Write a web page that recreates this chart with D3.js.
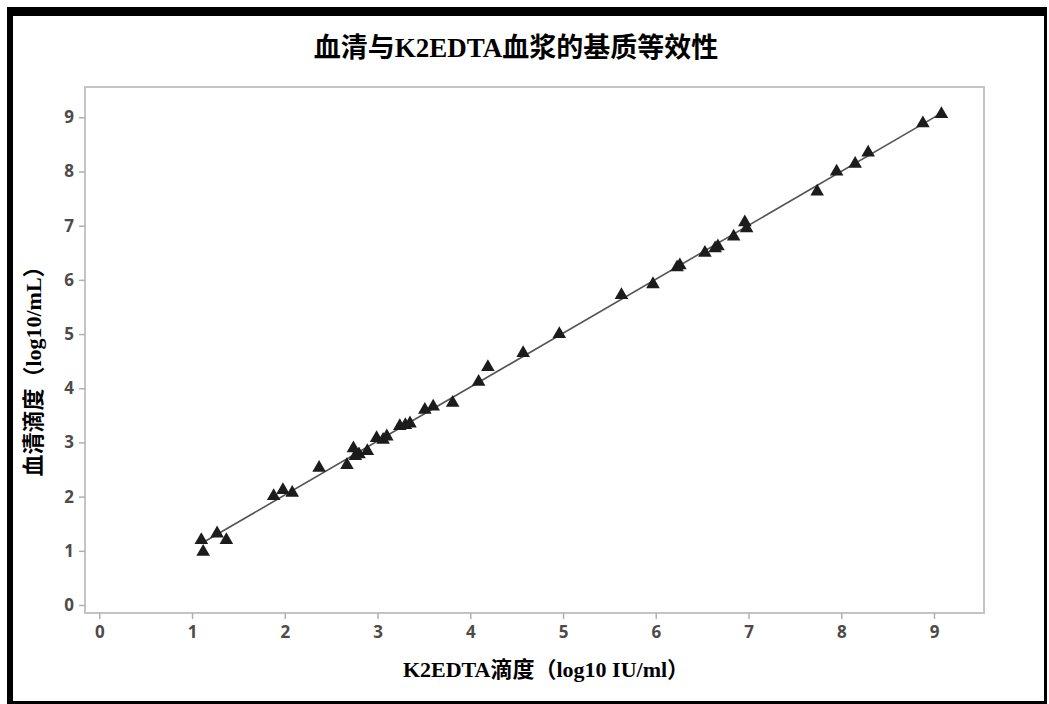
<!DOCTYPE html>
<html>
<head>
<meta charset="utf-8">
<script src="https://cdn.jsdelivr.net/npm/d3@7"></script>
<style>
  html, body { margin: 0; padding: 0; background: #fff; }
  svg { display: block; }
</style>
</head>
<body>
<script>
// K2EDTA plasma titre (x) vs. serum titre (y), log10 scale
const k2edta = [1.10, 1.12, 1.27, 1.37, 1.88, 1.98, 2.08, 2.37, 2.67, 2.74, 2.76, 2.80, 2.89, 2.99, 3.06, 3.10,
                3.24, 3.30, 3.35, 3.51, 3.60, 3.81, 4.09, 4.19, 4.57, 4.96, 5.63, 5.97, 6.23, 6.26, 6.53, 6.64,
                6.67, 6.84, 6.96, 6.98, 7.74, 7.95, 8.15, 8.29, 8.88, 9.08];
const serum  = [1.20, 0.98, 1.32, 1.20, 2.01, 2.12, 2.07, 2.53, 2.58, 2.89, 2.75, 2.78, 2.84, 3.08, 3.05, 3.11,
                3.30, 3.32, 3.35, 3.60, 3.66, 3.73, 4.12, 4.39, 4.65, 5.00, 5.72, 5.92, 6.23, 6.27, 6.50, 6.58,
                6.62, 6.80, 7.06, 6.95, 7.63, 8.00, 8.14, 8.35, 8.89, 9.06];
const xTicks = [0, 1, 2, 3, 4, 5, 6, 7, 8, 9];
const yTicks = [0, 1, 2, 3, 4, 5, 6, 7, 8, 9];
const titleText = "血清与K2EDTA血浆的基质等效性";
const xLabel = "K2EDTA滴度（log10 IU/ml）";
const yLabel = "血清滴度（log10/mL）";

const W = 1049, H = 704;
const svg = d3.select("body").append("svg").attr("width", W).attr("height", H);

// outer black frame
svg.append("rect").attr("x", 7).attr("y", 7).attr("width", 1040).attr("height", 697).attr("fill", "#000");
svg.append("rect").attr("x", 13).attr("y", 16).attr("width", 1031).attr("height", 685).attr("fill", "#fff");

// plot area
const plot = { left: 85, top: 87, right: 984, bottom: 613 };
const x = d3.scaleLinear().domain([0, 9]).range([99.3, 934]);
const y = d3.scaleLinear().domain([0, 9]).range([605, 117.3]);

svg.append("rect")
  .attr("x", plot.left).attr("y", plot.top)
  .attr("width", plot.right - plot.left).attr("height", plot.bottom - plot.top)
  .attr("fill", "none").attr("stroke", "#c4c4c4").attr("stroke-width", 2);

const tickFont = "'Open Sans', 'DejaVu Sans', sans-serif";

const xAxis = svg.append("g").attr("transform", `translate(0,${plot.bottom})`)
  .call(d3.axisBottom(x).tickValues(xTicks).tickSize(6).tickPadding(5).tickFormat(d3.format("d")));
const yAxis = svg.append("g").attr("transform", `translate(${plot.left},0)`)
  .call(d3.axisLeft(y).tickValues(yTicks).tickSize(6).tickPadding(5).tickFormat(d3.format("d")));

[xAxis, yAxis].forEach(g => {
  g.select(".domain").remove();
  g.selectAll(".tick line").attr("stroke", "#b0b0b0").attr("stroke-width", 1.5);
  g.selectAll(".tick text")
    .attr("fill", "#4f4a48")
    .style("font-family", tickFont)
    .style("font-weight", "bold")
    .style("font-size", "17px");
});
xAxis.selectAll(".tick text").attr("dy", "0.85em");

// least-squares fit line
const n = k2edta.length;
const mx = d3.mean(k2edta), my = d3.mean(serum);
let sxy = 0, sxx = 0;
for (let i = 0; i < n; i++) {
  sxy += (k2edta[i] - mx) * (serum[i] - my);
  sxx += (k2edta[i] - mx) ** 2;
}
const slope = sxy / sxx, intercept = my - slope * mx;
const [x0, x1] = d3.extent(k2edta);
svg.append("line")
  .attr("x1", x(x0)).attr("y1", y(intercept + slope * x0))
  .attr("x2", x(x1)).attr("y2", y(intercept + slope * x1))
  .attr("stroke", "#555").attr("stroke-width", 1.6);

// triangle markers
const tri = d3.symbol().type(d3.symbolTriangle).size(80);
svg.append("g").selectAll("path")
  .data(k2edta.map((v, i) => [v, serum[i]]))
  .join("path")
  .attr("d", tri)
  .attr("transform", d => `translate(${x(d[0])},${y(d[1])})`)
  .attr("fill", "#1c1c1c");

const labelFont = "'Liberation Serif', 'Noto Sans CJK SC', serif";

svg.append("text")
  .attr("x", 516).attr("y", 57)
  .attr("text-anchor", "middle")
  .style("font-family", labelFont).style("font-weight", "bold").style("font-size", "27px")
  .text(titleText);

svg.append("text")
  .attr("x", 546).attr("y", 677)
  .attr("text-anchor", "middle")
  .style("font-family", labelFont).style("font-weight", "bold").style("font-size", "22px")
  .text(xLabel);

svg.append("text")
  .attr("transform", "translate(41,366) rotate(-90)")
  .attr("text-anchor", "middle")
  .style("font-family", labelFont).style("font-weight", "bold").style("font-size", "22px")
  .text(yLabel);
</script>
</body>
</html>
